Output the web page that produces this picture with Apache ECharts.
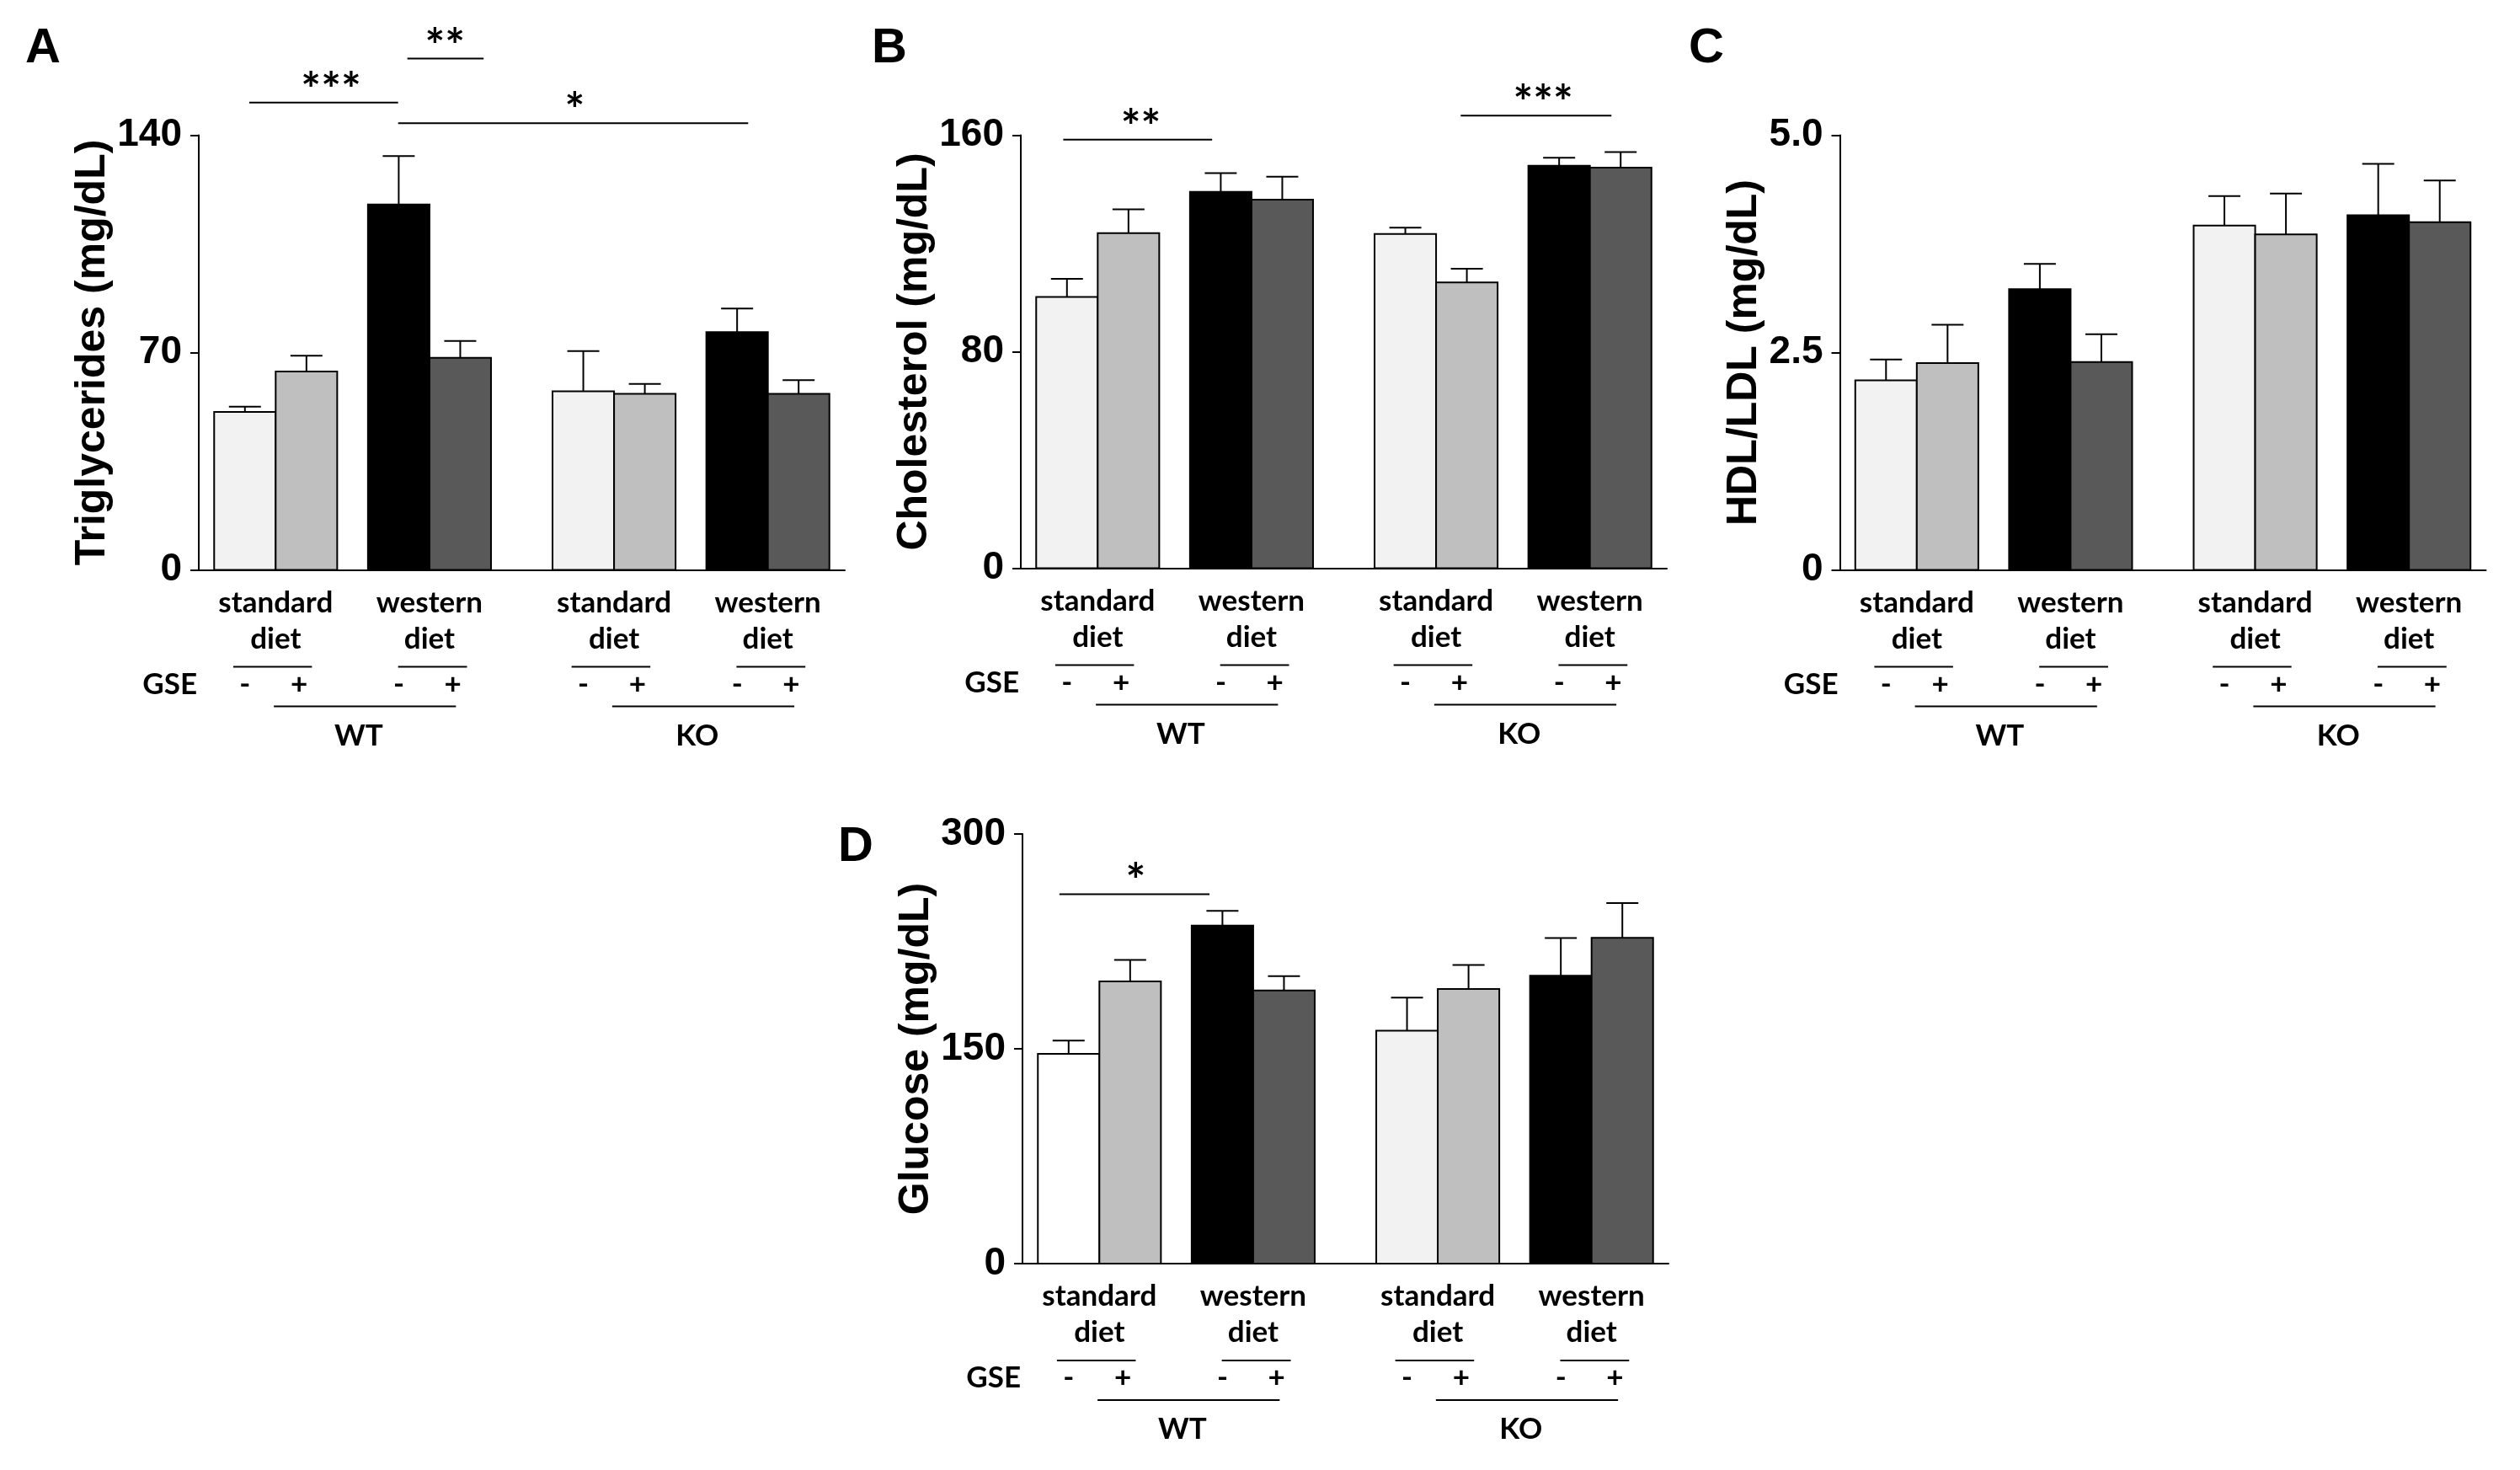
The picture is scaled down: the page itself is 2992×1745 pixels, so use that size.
<!DOCTYPE html>
<html><head><meta charset="utf-8">
<script src="https://cdn.jsdelivr.net/npm/echarts@6/dist/echarts.min.js"></script>
<style>html,body{margin:0;padding:0;background:#fff}#c{width:2992px;height:1745px}</style>
</head><body><div id="c"></div><script>
// ---------- data ----------
const genotypes = ['WT', 'KO'];
const diets = [['standard', 'diet'], ['western', 'diet']];
const gseLevels = ['-', '+'];

const triglycerides    = [50.9, 63.9, 117.7, 68.3, 57.5, 56.7, 76.6, 56.7];
const triglyceridesSEM = [1.7, 5.1, 15.6, 5.4, 13.0, 3.2, 7.6, 4.4];
const cholesterol      = [100.2, 123.8, 139.1, 136.2, 123.5, 105.6, 148.7, 148.0];
const cholesterolSEM   = [6.7, 8.8, 6.9, 8.5, 2.3, 5.1, 3.0, 5.8];
const hdlLdl           = [2.18, 2.38, 3.23, 2.39, 3.96, 3.86, 4.08, 4.00];
const hdlLdlSEM        = [0.24, 0.44, 0.29, 0.32, 0.34, 0.47, 0.59, 0.48];
const glucose          = [146.4, 197.1, 236.1, 190.8, 162.6, 191.7, 201.0, 227.5];
const glucoseSEM       = [9.3, 15.0, 10.2, 9.9, 23.1, 16.8, 26.4, 24.2];

const ticksTG   = ['0', '70', '140'];
const ticksCHOL = ['0', '80', '160'];
const ticksHDL  = ['0', '2.5', '5.0'];
const ticksGLU  = ['0', '150', '300'];

const sigTG   = [['***', 0, 2], ['**', 2, 3], ['*', 2, 6]];
const sigCHOL = [['**', 0, 2], ['***', 5, 7]];
const sigGLU  = [['*', 0, 2]];

// ---------- layout / style ----------
const LABEL_FONT = 'Lato, "Open Sans", sans-serif';
const TICK_FONT = '"Liberation Sans Narrow", "Liberation Sans", Arial, sans-serif';
const TITLE_FONT = '"Liberation Sans", Arial, sans-serif';
const baseColors = ['#f2f2f2', '#bfbfbf', '#000000', '#595959', '#f2f2f2', '#bfbfbf', '#000000', '#595959'];
const gluColors  = ['#ffffff', '#bfbfbf', '#000000', '#595959', '#f2f2f2', '#bfbfbf', '#000000', '#595959'];

function barPos(i) {
  const g = Math.floor(i / 4), d = Math.floor(i / 2) % 2, s = i % 2;
  return g * 5.5 + d * 2.5 + s;
}
// bracket geometry (axis units & level in data units) - layout only
const sigLayoutTG   = [{x1: 0.07, x2: 2.49, lvl: 150.5, tx: 1.4}, {x1: 2.64, x2: 3.88, lvl: 164.7, tx: 3.25}, {x1: 2.49, x2: 8.18, lvl: 143.9, tx: 5.36}];
const sigLayoutCHOL = [{x1: -0.06, x2: 2.36, lvl: 158.4, tx: 1.2}, {x1: 6.4, x2: 8.85, lvl: 167.2, tx: 7.74}];
const sigLayoutGLU  = [{x1: -0.15, x2: 2.29, lvl: 258, tx: 1.09}];

const panels = [
  {letter: 'A', name: 'Triglycerides (mg/dL)', values: triglycerides, sem: triglyceridesSEM, ticks: ticksTG,
   grid: {left: 236, top: 160.5, width: 767, height: 516}, nameGap: 96, colors: baseColors, sig: sigTG, sigLayout: sigLayoutTG, lp: [51, 58]},
  {letter: 'B', name: 'Cholesterol (mg/dL)', values: cholesterol, sem: cholesterolSEM, ticks: ticksCHOL,
   grid: {left: 1212, top: 160.5, width: 767, height: 514}, nameGap: 72, colors: baseColors, sig: sigCHOL, sigLayout: sigLayoutCHOL, lp: [1056, 58]},
  {letter: 'C', name: 'HDL/LDL (mg/dL)', values: hdlLdl, sem: hdlLdlSEM, ticks: ticksHDL,
   grid: {left: 2184.5, top: 160.5, width: 767, height: 516}, nameGap: 70, colors: baseColors, sig: [], sigLayout: [], lp: [2026, 58]},
  {letter: 'D', name: 'Glucose (mg/dL)', values: glucose, sem: glucoseSEM, ticks: ticksGLU,
   grid: {left: 1214, top: 990, width: 767, height: 510}, nameGap: 91, colors: gluColors, sig: sigGLU, sigLayout: sigLayoutGLU, lp: [1016, 1006]}
];

function txt(x, y, text, font, align) {
  return {type: 'text', x: x, y: y, style: {text: text, fill: '#000', font: font, align: align || 'center', verticalAlign: 'middle'}};
}
function ln(x1, y1, x2, y2) {
  return {type: 'line', shape: {x1: x1, y1: y1, x2: x2, y2: y2}, style: {stroke: '#000', lineWidth: 2}};
}

const grids = [], xAxes = [], yAxes = [], series = [], graphics = [];
panels.forEach(function (p, pi) {
  grids.push(p.grid);
  xAxes.push({gridIndex: pi, type: 'value', min: -0.75, max: 9.75,
    axisLine: {show: true, onZero: false, lineStyle: {color: '#000', width: 2}},
    axisTick: {show: false}, axisLabel: {show: false}, splitLine: {show: false}});
  const maxV = parseFloat(p.ticks[2]);
  yAxes.push({gridIndex: pi, type: 'value', min: 0, max: maxV, interval: maxV / 2,
    name: p.name, nameLocation: 'middle', nameGap: p.nameGap, nameRotate: 90,
    nameTextStyle: {fontFamily: TITLE_FONT, fontWeight: 'bold', fontSize: 50, color: '#000'},
    axisLine: {show: true, onZero: false, lineStyle: {color: '#000', width: 2}},
    axisTick: {show: true, length: 10, lineStyle: {color: '#000', width: 2}},
    axisLabel: {fontFamily: TICK_FONT, fontWeight: 'bold', fontSize: 46, color: '#000', margin: 20,
      formatter: (function (labels) { return function (v, idx) { return labels[idx]; }; })(p.ticks)},
    splitLine: {show: false}});

  // bars + error bars
  series.push({
    type: 'custom', coordinateSystem: 'cartesian2d', xAxisIndex: pi, yAxisIndex: pi, silent: true, z: 3,
    encode: {x: 0, y: 1},
    data: p.values.map(function (v, i) { return [barPos(i), v, p.sem[i], i]; }),
    renderItem: function (params, api) {
      const x = api.value(0), v = api.value(1), e = api.value(2), k = api.value(3);
      const p0 = api.coord([x, 0]), p1 = api.coord([x, v]), p2 = api.coord([x, v + e]);
      const w = api.size([1, 0])[0];
      const cap = api.size([0.52, 0])[0] / 2;
      return {type: 'group', children: [
        ln(p1[0], p1[1], p2[0], p2[1]),
        ln(p2[0] - cap, p2[1], p2[0] + cap, p2[1]),
        {type: 'rect', shape: {x: p0[0] - w / 2, y: p1[1], width: w, height: p0[1] - p1[1]},
         style: {fill: p.colors[k], stroke: '#000', lineWidth: 2}}
      ]};
    }
  });

  // category labels under the axis
  const pairData = [];
  genotypes.forEach(function (g, gi) { diets.forEach(function (d, di) { pairData.push([gi * 5.5 + di * 2.5 + 0.5, di, gi]); }); });
  const f = 'bold 35px ' + LABEL_FONT;
  series.push({
    type: 'custom', coordinateSystem: 'cartesian2d', xAxisIndex: pi, yAxisIndex: pi, silent: true, clip: false,
    data: pairData,
    renderItem: function (params, api) {
      const c = api.value(0), di = api.value(1);
      const o = api.coord([c, 0]);
      const u = api.size([1, 0])[0];
      const lines = diets[di];
      const uc = c + (di === 0 ? -0.05 : 0.05), uh = di === 0 ? 0.64 : 0.56;
      const a = api.coord([uc - uh, 0]), b = api.coord([uc + uh, 0]);
      const children = [
        txt(o[0], o[1] + 39, lines[0], f),
        txt(o[0], o[1] + 82, lines[1], f),
        ln(a[0], o[1] + 115, b[0], o[1] + 115),
        txt(o[0] - 0.5 * u, o[1] + 136, gseLevels[0], f),
        txt(o[0] + 0.38 * u, o[1] + 136, gseLevels[1], f)
      ];
      return {type: 'group', children: children};
    }
  });
  // genotype labels + GSE
  series.push({
    type: 'custom', coordinateSystem: 'cartesian2d', xAxisIndex: pi, yAxisIndex: pi, silent: true, clip: false,
    data: genotypes.map(function (g, gi) { return [gi * 5.5 + 1.95, gi]; }),
    renderItem: function (params, api) {
      const c = api.value(0), gi = api.value(1);
      const o = api.coord([c, 0]);
      const a = api.coord([c - 1.48, 0]), b = api.coord([c + 1.48, 0]);
      const t = api.coord([c - 0.1, 0]);
      const children = [
        ln(a[0], o[1] + 162, b[0], o[1] + 162),
        txt(t[0], o[1] + 197, genotypes[gi], f)
      ];
      if (gi === 0) {
        const gp = api.coord([-1.22, 0]);
        children.push(txt(gp[0], o[1] + 136, 'GSE', f));
      }
      return {type: 'group', children: children};
    }
  });
  // significance brackets
  if (p.sig.length) {
    series.push({
      type: 'custom', coordinateSystem: 'cartesian2d', xAxisIndex: pi, yAxisIndex: pi, silent: true, clip: false,
      data: p.sig.map(function (s, si) { const L = p.sigLayout[si]; return [L.x1, L.x2, L.lvl, L.tx, si]; }),
      renderItem: function (params, api) {
        const a = api.coord([api.value(0), api.value(2)]);
        const b = api.coord([api.value(1), api.value(2)]);
        const t = api.coord([api.value(3), api.value(2)]);
        return {type: 'group', children: [
          ln(a[0], a[1], b[0], b[1]),
          txt(t[0], t[1] - 14, p.sig[api.value(4)][0], 'bold 56px ' + LABEL_FONT)
        ]};
      }
    });
  }
  graphics.push({type: 'text', x: p.lp[0], y: p.lp[1], silent: true,
    style: {text: p.letter, fill: '#000', font: 'bold 58px ' + TITLE_FONT, align: 'center', verticalAlign: 'middle'}});
});

const chart = echarts.init(document.getElementById('c'), null, {renderer: 'canvas', width: 2992, height: 1745});
chart.setOption({
  animation: false,
  backgroundColor: '#ffffff',
  grid: grids, xAxis: xAxes, yAxis: yAxes, series: series, graphic: graphics
});
</script></body></html>
